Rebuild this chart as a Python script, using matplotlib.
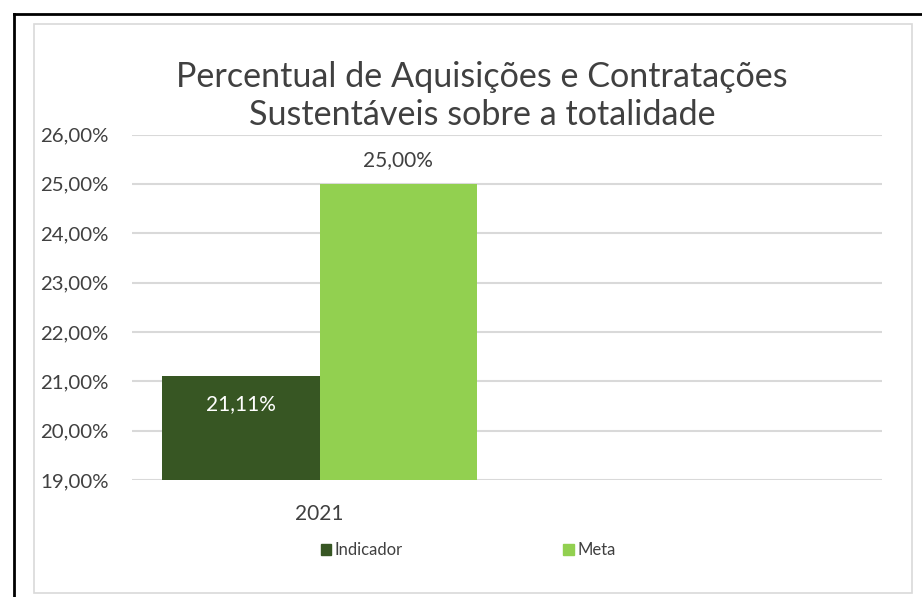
import matplotlib.pyplot as plt
from matplotlib.patches import Rectangle, Patch
from matplotlib.lines import Line2D

plt.rcParams["font.family"] = ["Lato", "DejaVu Sans"]

# data
categories = ["2021", ""]
indicador = [21.11, None]
meta = [25.00, None]
y_ticks = [19, 20, 21, 22, 23, 24, 25, 26]
title = "Percentual de Aquisições e Contratações\nSustentáveis sobre a totalidade"

DARK = "#375623"
LIGHT = "#92D050"
TEXT = "#404040"
GRID = "#D9D9D9"

W, H = 922, 597
fig = plt.figure(figsize=(W / 100, H / 100), dpi=100)


def fx(px):
    return px / W


def fy(py):
    return 1 - py / H


# frames
fig.add_artist(Rectangle((fx(34), fy(593)), fx(912) - fx(34), fy(24) - fy(593),
                         transform=fig.transFigure, fill=False, edgecolor=GRID, lw=1.2))
fig.add_artist(Line2D([fx(13.5), fx(13.5)], [0, fy(13.5)], transform=fig.transFigure,
                      color="black", lw=2))
fig.add_artist(Line2D([fx(13.5), 1], [fy(13.5), fy(13.5)], transform=fig.transFigure,
                      color="black", lw=2))

ax = fig.add_axes([fx(132), fy(480), fx(882) - fx(132), fy(134.5) - fy(480)])

x = [0]
bw = 0.42
b1 = ax.bar([xi - bw / 2 for xi in x], indicador[:1], width=bw, bottom=0, color=DARK, label="Indicador")
b2 = ax.bar([xi + bw / 2 for xi in x], meta[:1], width=bw, bottom=0, color=LIGHT, label="Meta")

ax.set_ylim(19, 26)
ax.set_xlim(-0.5, 1.5)
ax.set_yticks(y_ticks)
ax.set_yticklabels([f"{v:.2f}%".replace(".", ",") for v in y_ticks], fontsize=14.7, color=TEXT)
ax.set_xticks([0, 1])
ax.set_xticklabels(categories, fontsize=15, color=TEXT)
ax.tick_params(axis="y", length=0, pad=17)
ax.tick_params(axis="x", length=0, pad=17)
for s in ax.spines.values():
    s.set_visible(False)
ax.grid(axis="y", color=GRID, lw=1.5)
ax.set_axisbelow(True)

for rect, v in zip(b1, indicador[:1]):
    ax.text(rect.get_x() + rect.get_width() / 2, v - 0.58, f"{v:.2f}%".replace(".", ","),
            ha="center", va="center", fontsize=15, color="white")
for rect, v in zip(b2, meta[:1]):
    ax.text(rect.get_x() + rect.get_width() / 2, v + 0.48, f"{v:.2f}%".replace(".", ","),
            ha="center", va="center", fontsize=15, color=TEXT)

fig.text(fx(482), fy(96), title, ha="center", va="center", fontsize=24.6, color=TEXT,
         linespacing=1.2)

handles = [Patch(color=DARK, label="Indicador"), Patch(color=LIGHT, label="Meta")]
leg = fig.legend(handles=handles, ncol=2, loc="center", bbox_to_anchor=(fx(468), fy(550)),
                 frameon=False, fontsize=12, handlelength=0.65, handleheight=0.65,
                 handletextpad=0.2, columnspacing=9.6, labelcolor=TEXT)

fig.savefig("out.png", dpi=100)
